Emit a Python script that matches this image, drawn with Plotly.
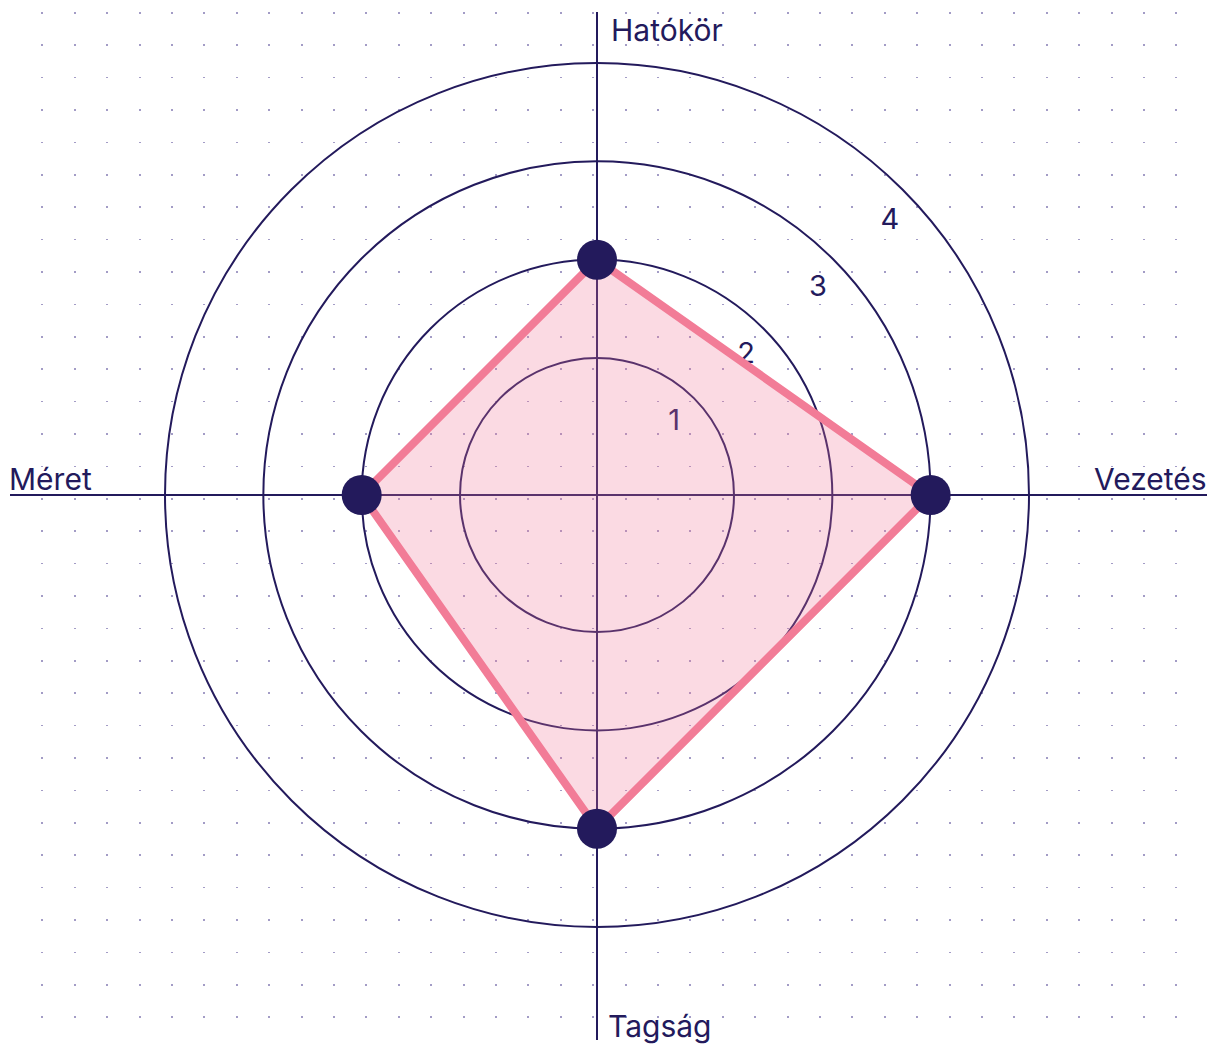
import plotly.graph_objects as go

# ---- data ----
categories = ["Hatókör", "Vezetés", "Tagság", "Méret"]
values = [2, 3, 3, 2]
ring_values = [1, 2, 3, 4]
ring_labels = ["1", "2", "3", "4"]

# ---- styling ----
NAVY = "#231a5c"
PINK = "#f27c97"
FILL = "rgba(240,120,150,0.27)"
DOT = "#a39cc6"
FONT = "Inter"

W, H = 1224, 1044
CX, CY = 597, 495          # chart centre (px from top-left)
R_OUT = 432                # outer ring radius in px
R_MIN = -0.393             # radial value at the very centre

# angles derived from category order
n = len(categories)
theta = [i * 360 / n for i in range(n)]

fig = go.Figure()

# invisible trace to anchor the cartesian "cross" axes
fig.add_trace(go.Scatter(x=[None], y=[None], xaxis="x", yaxis="y",
                         showlegend=False, hoverinfo="skip"))

# ring value labels placed just inside each ring
fig.add_trace(go.Scatterpolar(
    r=[v - 0.32 for v in ring_values], theta=[47] * len(ring_values),
    mode="text", text=ring_labels,
    textfont=dict(family=FONT, size=29, color=NAVY),
    showlegend=False, hoverinfo="skip"))

# filled polygon
fig.add_trace(go.Scatterpolar(
    r=values + values[:1], theta=theta + theta[:1],
    mode="lines", fill="toself", fillcolor=FILL,
    line=dict(color=PINK, width=8, shape="linear"),
    showlegend=False, hoverinfo="skip"))

# markers
fig.add_trace(go.Scatterpolar(
    r=values, theta=theta, mode="markers",
    marker=dict(size=40, color=NAVY, line=dict(width=0)),
    showlegend=False, hoverinfo="skip"))

# cartesian cross area (plot area from (10,12) to (1207,1040))
x0p, x1p, y0p, y1p = 10, 1207, 12, 1040
fig.update_layout(
    xaxis=dict(domain=[x0p / W, x1p / W], range=[x0p - CX, x1p - CX],
               showgrid=True, gridcolor=DOT, gridwidth=1.6,
               griddash="1.6px,30.8px", tick0=x0p - CX, dtick=32.4,
               zeroline=True, zerolinecolor=NAVY, zerolinewidth=2,
               showticklabels=False, ticks="", showline=False,
               fixedrange=True),
    yaxis=dict(domain=[(H - y1p) / H, (H - y0p) / H],
               range=[CY - y1p, CY - y0p],
               showgrid=False, zeroline=True, zerolinecolor=NAVY,
               zerolinewidth=2, showticklabels=False, ticks="",
               showline=False, fixedrange=True),
)

fig.update_layout(
    polar=dict(
        domain=dict(x=[(CX - R_OUT) / W, (CX + R_OUT) / W],
                    y=[(H - CY - R_OUT) / H, (H - CY + R_OUT) / H]),
        bgcolor="rgba(0,0,0,0)",
        angularaxis=dict(direction="clockwise", rotation=90,
                         showgrid=False, showline=True, linecolor=NAVY,
                         linewidth=2, showticklabels=False, ticks=""),
        radialaxis=dict(range=[R_MIN, 4], tickvals=ring_values,
                        showgrid=True, gridcolor=NAVY, gridwidth=2,
                        showline=False, showticklabels=False, ticks=""),
    ),
)

# axis name labels at the ends of the cross
label_pos = {
    "Hatókör": dict(x=609, y=30, xanchor="left"),
    "Vezetés": dict(x=1209, y=479, xanchor="right"),
    "Tagság": dict(x=606, y=1026, xanchor="left"),
    "Méret": dict(x=7, y=479, xanchor="left"),
}
for cat in categories:
    p = label_pos[cat]
    fig.add_annotation(text=cat, xref="paper", yref="paper",
                       x=p["x"] / W, y=(H - p["y"]) / H,
                       xanchor=p["xanchor"], yanchor="middle",
                       showarrow=False,
                       font=dict(family=FONT, size=30, color=NAVY))

fig.update_layout(
    width=W, height=H, margin=dict(l=0, r=0, t=0, b=0),
    paper_bgcolor="white", plot_bgcolor="white",
    showlegend=False,
)

fig.write_html("out.html")
